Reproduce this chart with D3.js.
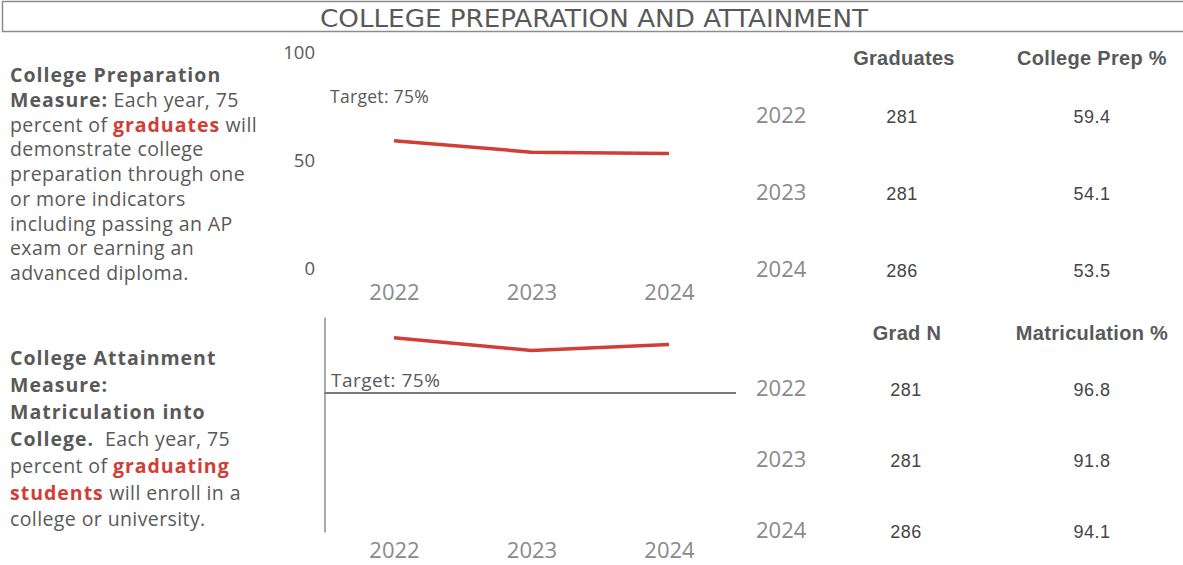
<!DOCTYPE html>
<html lang="en">
<head>
    <meta charset="UTF-8">
    <title>College Preparation and Attainment</title>
    <style>
        body { margin: 0; background: #fff; }
        svg text { white-space: pre; }
    </style>
</head>
<body>
    <div id="chart"></div>
    <script src="https://d3js.org/d3.v7.min.js"></script>
    <script>
        // data
        const years = ["2022", "2023", "2024"];
        const prepPct = [59.4, 54.1, 53.5];
        const prepGrads = [281, 281, 286];
        const matricPct = [96.8, 91.8, 94.1];
        const matricGrads = [281, 281, 286];
        const target = 75;
        const prepTicks = [0, 50, 100];

        const para1 = [
            [["College Preparation", "b"]],
            [["Measure:", "b"], [" Each year, 75", ""]],
            [["percent of ", ""], ["graduates", "r"], [" will", ""]],
            [["demonstrate college", ""]],
            [["preparation through one", ""]],
            [["or more indicators", ""]],
            [["including passing an AP", ""]],
            [["exam or earning an", ""]],
            [["advanced diploma.", ""]]
        ];
        const para2 = [
            [["College Attainment", "b"]],
            [["Measure:", "b"]],
            [["Matriculation into", "b"]],
            [["College.", "b"], ["  Each year, 75", ""]],
            [["percent of ", ""], ["graduating", "r"]],
            [["students", "r"], [" will enroll in a", ""]],
            [["college or university.", ""]]
        ];

        const W = 1183, H = 565;
        const red = "#d03e37", textGrey = "#595959", yearGrey = "#8a8a8a";

        const svg = d3.select("#chart").append("svg")
            .attr("width", W)
            .attr("height", H);

        // title box
        svg.append("rect")
            .attr("x", 2.5).attr("y", 1.5)
            .attr("width", W).attr("height", 30)
            .attr("fill", "none")
            .attr("stroke", "#8c8c8c")
            .attr("stroke-width", 1.5);

        svg.append("text")
            .attr("x", 594).attr("y", 26.5)
            .attr("text-anchor", "middle")
            .attr("textLength", 548)
            .attr("lengthAdjust", "spacingAndGlyphs")
            .style("font-family", "'Liberation Sans Narrow', 'DejaVu Sans Condensed', sans-serif")
            .style("font-size", "24px")
            .style("fill", textGrey)
            .text("COLLEGE PREPARATION AND ATTAINMENT");

        // left descriptions
        function paragraph(lines, y0, step) {
            const t = svg.append("text")
                .style("font-family", "'Open Sans', sans-serif")
                .style("font-size", "19.5px")
                .style("fill", textGrey);
            lines.forEach((line, i) => {
                line.forEach((seg, j) => {
                    const ts = t.append("tspan")
                        .text(seg[0])
                        .style("font-weight", seg[1] ? "bold" : "normal")
                        .style("letter-spacing", seg[1] ? "1px" : "0.4px")
                        .style("fill", seg[1] === "r" ? red : textGrey);
                    if (j === 0) ts.attr("x", 10).attr("y", y0 + i * step);
                });
            });
        }
        paragraph(para1, 82, 24.75);
        paragraph(para2, 365, 26.9);

        const x = d3.scalePoint().domain(years).range([394, 669]);

        const line = (yScale) => d3.line()
            .x((d, i) => x(years[i]))
            .y(d => yScale(d));

        function xAxis(baseline) {
            const g = svg.append("g")
                .attr("transform", "translate(0," + baseline + ")")
                .call(d3.axisBottom(x).tickSize(0));
            g.select(".domain").remove();
            g.selectAll("text")
                .attr("y", 0).attr("dy", 0)
                .style("font-family", "'Open Sans', sans-serif")
                .style("font-size", "22px")
                .style("fill", yearGrey);
        }

        // chart 1: college prep
        const y1 = d3.scaleLinear().domain([0, 100]).range([269, 53]);

        const ax1 = svg.append("g")
            .attr("transform", "translate(320,0)")
            .call(d3.axisLeft(y1).tickValues(prepTicks).tickSize(0).tickPadding(5));
        ax1.select(".domain").remove();
        ax1.selectAll("text")
            .style("font-family", "'Open Sans', sans-serif")
            .style("font-size", "18.5px")
            .style("fill", textGrey);

        svg.append("text")
            .attr("x", 330).attr("y", y1(target) - 4)
            .style("font-family", "'Open Sans', sans-serif")
            .style("font-size", "17.5px")
            .style("letter-spacing", "0.3px")
            .style("fill", textGrey)
            .text("Target: 75%");

        svg.append("path")
            .datum(prepPct)
            .attr("d", line(y1))
            .attr("fill", "none")
            .attr("stroke", red)
            .attr("stroke-width", 3.5);

        xAxis(300);

        // chart 2: matriculation
        const y2 = d3.scaleLinear().domain([20, 105]).range([532, 317]);

        const ax2 = svg.append("g")
            .attr("transform", "translate(324.5,0)")
            .call(d3.axisLeft(y2).tickValues([]).tickSizeOuter(0));
        ax2.select(".domain")
            .attr("stroke", "#8c8c8c")
            .attr("stroke-width", 1.5);

        svg.append("line")
            .attr("x1", 324.5).attr("x2", 736)
            .attr("y1", y2(target)).attr("y2", y2(target))
            .attr("stroke", "#7a7a7a")
            .attr("stroke-width", 2);

        svg.append("text")
            .attr("x", 331).attr("y", y2(target) - 6)
            .style("font-family", "'Open Sans', sans-serif")
            .style("font-size", "19px")
            .style("letter-spacing", "0.5px")
            .style("fill", textGrey)
            .text("Target: 75%");

        svg.append("path")
            .datum(matricPct)
            .attr("d", line(y2))
            .attr("fill", "none")
            .attr("stroke", red)
            .attr("stroke-width", 3.5);

        xAxis(558);

        // data tables
        function table(headers, hx, hy, rows, vx, ry) {
            headers.forEach((h, i) => {
                svg.append("text")
                    .attr("x", hx[i]).attr("y", hy)
                    .attr("text-anchor", "middle")
                    .style("font-family", "'Liberation Sans', Arial, sans-serif")
                    .style("font-weight", "bold")
                    .style("font-size", "20px")
                    .style("letter-spacing", "0.3px")
                    .style("fill", textGrey)
                    .text(h);
            });
            const g = svg.append("g");
            const r = g.selectAll("g.row")
                .data(rows)
                .join("g")
                .attr("class", "row")
                .attr("transform", (d, i) => "translate(0," + ry[i] + ")");
            r.append("text")
                .attr("x", 756)
                .style("font-family", "'Open Sans', sans-serif")
                .style("font-size", "22px")
                .style("fill", yearGrey)
                .text(d => d[0]);
            [1, 2].forEach(c => {
                r.append("text")
                    .attr("x", vx[c - 1])
                    .attr("text-anchor", "middle")
                    .style("font-family", "'Liberation Sans', Arial, sans-serif")
                    .style("font-size", "18px")
                    .style("letter-spacing", "0.5px")
                    .style("fill", "#454545")
                    .text(d => d[c]);
            });
        }

        table(["Graduates", "College Prep %"], [904, 1092], 65,
            years.map((y, i) => [y, prepGrads[i], prepPct[i].toFixed(1)]),
            [902, 1092], [123, 200, 277]);

        table(["Grad N", "Matriculation %"], [907, 1092], 340,
            years.map((y, i) => [y, matricGrads[i], matricPct[i].toFixed(1)]),
            [906, 1092], [396, 467, 538]);
    </script>
</body>
</html>
